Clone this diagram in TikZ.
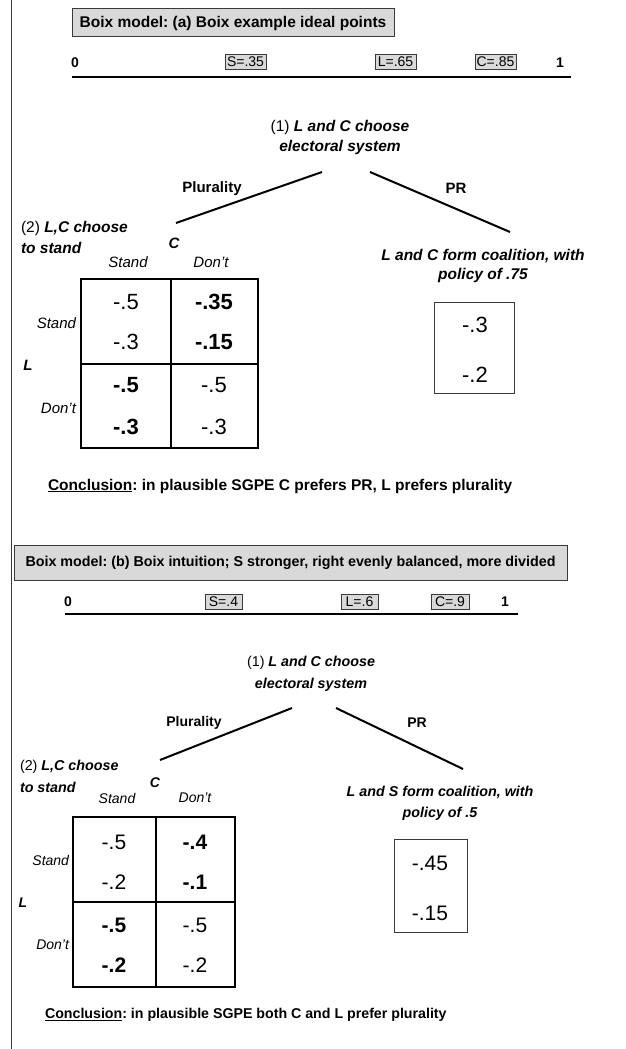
\documentclass[tikz,border=0pt]{standalone}
\usepackage{fontspec}
\setmainfont{Liberation Sans}
\frenchspacing
\newcommand\myfs[2]{\fontsize{#1}{#2}\selectfont}
\definecolor{hdrgray}{HTML}{D9D9D9}
\definecolor{edgegray}{HTML}{3A3A3A}
\begin{document}
\begin{tikzpicture}[x=1pt,y=-1pt,
  every node/.style={inner sep=0pt, outer sep=0pt},
  hdr/.style={draw=edgegray, line width=1pt, fill=hdrgray, font=\bfseries},
  ptbox/.style={draw=edgegray, line width=0.8pt, fill=hdrgray, font=\myfs{14}{16}, minimum height=15pt},
  endpt/.style={font=\bfseries\myfs{14}{16}},
  axis/.style={line width=1.6pt},
  branch/.style={line width=2pt},
  grid/.style={line width=1.4pt},
  outer/.style={line width=2.6pt},
  paybox/.style={draw=edgegray, line width=1pt},
  hd/.style={font=\itshape\myfs{15}{17}},
  stage/.style={align=left, anchor=west},
  tlabel/.style={font=\bfseries\myfs{14}{16}}
]
\useasboundingbox (0,0) rectangle (626,1049);
\draw[edgegray, line width=1pt] (11,0) coordinate (vtop) -- (11,1049) coordinate (vbot);

%% ================= (a) =================
\node[hdr, minimum width=322pt, minimum height=28pt, font=\bfseries\myfs{15.5}{18}] (ha) at (233,23) {Boix model: (a) Boix example ideal points};

\node[endpt] (a0) at (75,63) {0};
\node[ptbox, minimum width=41pt] (aS) at (245.5,62) {S=.35};
\node[ptbox, minimum width=41pt] (aL) at (395.5,62) {L=.65};
\node[ptbox, minimum width=41pt] (aC) at (495.5,62) {C=.85};
\node[endpt] (a1) at (560,63) {1};
\coordinate (aAxL) at (72,77);
\coordinate (aAxR) at (571,77);
\draw[axis] (aAxL) -- (aAxR);

\node[align=center, font=\myfs{15.5}{20}] (aroot) at (340,137) {(1) \textbf{\textit{L and C choose}}\\\textbf{\textit{electoral system}}};
\coordinate (aBL1) at (322,172);
\coordinate (aBL2) at (176,223);
\coordinate (aBR1) at (370,172);
\coordinate (aBR2) at (510,232);
\draw[branch] (aBL1) -- (aBL2);
\draw[branch] (aBR1) -- (aBR2);
\node[font=\bfseries\myfs{15}{17}] (aplur) at (212,189) {Plurality};
\node[font=\bfseries\myfs{15}{17}] (apr) at (456,188) {PR};

\node[stage, font=\myfs{15.5}{21}] (astage) at (21,237) {(2) \textbf{\textit{L,C choose}}\\\textbf{\textit{to stand}}};
\node[font=\bfseries\itshape\myfs{15}{17}] (aCl) at (174,243) {C};
\node[hd] (acs) at (128,262) {Stand};
\node[hd] (acd) at (211,262) {Don’t};
\node[hd, anchor=east] (ars) at (76,323) {Stand};
\node[hd, anchor=east] (ard) at (76,408) {Don’t};
\node[font=\bfseries\itshape\myfs{15}{17}] (aLl) at (28,365) {L};

\coordinate (aM1) at (81,279);
\coordinate (aM2) at (258,448);
\coordinate (aMt) at (171,279);
\coordinate (aMb) at (171,448);
\coordinate (aMl) at (81,364);
\coordinate (aMr) at (258,364);
\draw[grid] (aMt) -- (aMb);
\draw[grid] (aMl) -- (aMr);
\draw[outer] (aM1) rectangle (aM2);

\begin{scope}[every node/.append style={font=\myfs{22}{24}}]
\node (a11a) at (126,302) {-.5};
\node (a11b) at (126,342) {-.3};
\node[font=\bfseries\myfs{22}{24}] (a12a) at (214,302) {-.35};
\node[font=\bfseries\myfs{22}{24}] (a12b) at (214,342) {-.15};
\node[font=\bfseries\myfs{22}{24}] (a21a) at (126,385) {-.5};
\node[font=\bfseries\myfs{22}{24}] (a21b) at (126,427) {-.3};
\node (a22a) at (214,385) {-.5};
\node (a22b) at (214,427) {-.3};
\end{scope}

\node[align=center, font=\bfseries\itshape\myfs{15.5}{19}] (aco) at (483,266) {L and C form coalition, with\\policy of .75};
\node[paybox, minimum width=80pt, minimum height=91pt] (apb) at (474,347.5) {};
\node[font=\myfs{22}{24}] (apv1) at (475,325) {-.3};
\node[font=\myfs{22}{24}] (apv2) at (475,375) {-.2};

\node[anchor=west, font=\bfseries\myfs{15.5}{18}] (aconc) at (48,486) {\underline{Conclusion}: in plausible SGPE C prefers PR, L prefers plurality};

%% ================= (b) =================
\node[hdr, minimum width=553pt, minimum height=35pt, font=\bfseries\myfs{14.3}{17}] (hb) at (290.5,562.5) {Boix model: (b) Boix intuition; S stronger, right evenly balanced, more divided};

\node[endpt] (b0) at (68,602) {0};
\node[ptbox, minimum width=37pt] (bS) at (223.5,602) {S=.4};
\node[ptbox, minimum width=37pt] (bL) at (359.5,602) {L=.6};
\node[ptbox, minimum width=38pt] (bC) at (450,602) {C=.9};
\node[endpt] (b1) at (505,602) {1};
\coordinate (bAxL) at (65,614);
\coordinate (bAxR) at (518,614);
\draw[axis] (bAxL) -- (bAxR);

\node[align=center, font=\myfs{14.3}{22}] (broot) at (311,674) {(1) \textbf{\textit{L and C choose}}\\\textbf{\textit{electoral system}}};
\coordinate (bBL1) at (292,708);
\coordinate (bBL2) at (160,760);
\coordinate (bBR1) at (336,708);
\coordinate (bBR2) at (463,769);
\draw[branch] (bBL1) -- (bBL2);
\draw[branch] (bBR1) -- (bBR2);
\node[font=\bfseries\myfs{14}{16}] (bplur) at (194,723) {Plurality};
\node[font=\bfseries\myfs{14}{16}] (bpr) at (417,723) {PR};

\node[stage, font=\myfs{14.3}{22}] (bstage) at (20,776) {(2) \textbf{\textit{L,C choose}}\\\textbf{\textit{to stand}}};
\node[font=\bfseries\itshape\myfs{14}{16}] (bCl) at (155,783) {C};
\node[hd, font=\itshape\myfs{14}{16}] (bcs) at (117,798) {Stand};
\node[hd, font=\itshape\myfs{14}{16}] (bcd) at (195,798) {Don’t};
\node[hd, font=\itshape\myfs{14}{16}, anchor=east] (brs) at (69,860) {Stand};
\node[hd, font=\itshape\myfs{14}{16}, anchor=east] (brd) at (69,945) {Don’t};
\node[font=\bfseries\itshape\myfs{14}{16}] (bLl) at (23,903) {L};

\coordinate (bM1) at (73,817);
\coordinate (bM2) at (235,987);
\coordinate (bMt) at (156,817);
\coordinate (bMb) at (156,987);
\coordinate (bMl) at (73,902);
\coordinate (bMr) at (235,902);
\draw[grid] (bMt) -- (bMb);
\draw[grid] (bMl) -- (bMr);
\draw[outer] (bM1) rectangle (bM2);

\begin{scope}[every node/.append style={font=\myfs{21}{23}}]
\node (b11a) at (114,842) {-.5};
\node (b11b) at (114,882) {-.2};
\node[font=\bfseries\myfs{21}{23}] (b12a) at (195,842) {-.4};
\node[font=\bfseries\myfs{21}{23}] (b12b) at (195,882) {-.1};
\node[font=\bfseries\myfs{21}{23}] (b21a) at (114,925) {-.5};
\node[font=\bfseries\myfs{21}{23}] (b21b) at (114,965) {-.2};
\node (b22a) at (195,925) {-.5};
\node (b22b) at (195,965) {-.2};
\end{scope}

\node[align=center, font=\bfseries\itshape\myfs{14.3}{21}] (bco) at (440,803.5) {L and S form coalition, with\\policy of .5};
\node[paybox, minimum width=73pt, minimum height=93pt] (bpb) at (430.5,885.5) {};
\node[font=\myfs{21}{23}] (bpv1) at (430,863) {-.45};
\node[font=\myfs{21}{23}] (bpv2) at (430,913) {-.15};

\node[anchor=west, font=\bfseries\myfs{14.2}{17}] (bconc) at (45,1015) {\underline{Conclusion}: in plausible SGPE both C and L prefer plurality};
\end{tikzpicture}
\end{document}
